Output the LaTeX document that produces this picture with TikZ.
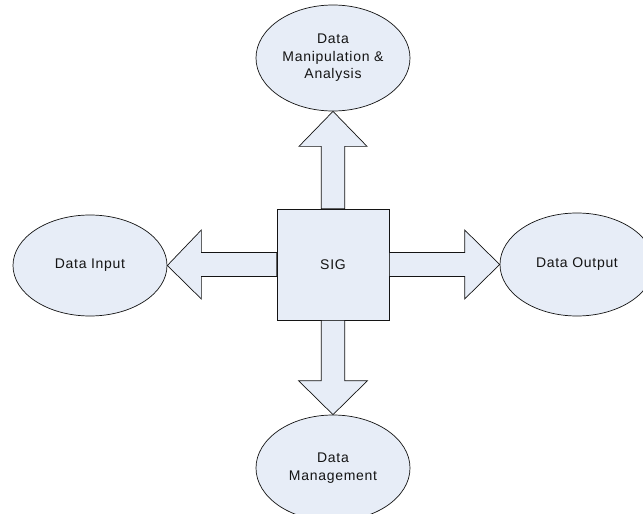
\documentclass[tikz,border=0pt]{standalone}
\usepackage{fontspec}
\setmainfont[LetterSpace=5]{Liberation Sans}
\usetikzlibrary{shapes.geometric,calc}
\definecolor{boxfill}{RGB}{231,237,247}
\definecolor{inkline}{RGB}{20,20,20}
\tikzset{
  every node/.style={font=\fontsize{14}{17.5}\selectfont, text=inkline},
  bubble/.style={ellipse, draw=inkline, fill=boxfill, line width=0.7pt,
    minimum width=154pt, minimum height=104pt, inner sep=0pt, align=center},
  core/.style={rectangle, draw=inkline, fill=boxfill, line width=0.7pt,
    minimum width=112pt, minimum height=111pt, inner sep=0pt},
  blockarr/.style={draw=inkline, fill=boxfill, line width=0.7pt, line join=miter}
}
\begin{document}
\begin{tikzpicture}[x=1pt,y=-1pt]
\useasboundingbox[fill=white] (0,0) rectangle (643,514);
\node[bubble, minimum height=106pt] (man) at (333,58) {Data\\Manipulation \&\\Analysis};
\node[bubble, minimum height=101pt] (inp) at (90,265.5) {Data Input};
\node[bubble, minimum height=103pt] (out) at (577,264.5) {Data Output};
\node[bubble, minimum height=106pt] (mgt) at (333,468) {Data\\Management};
\node[core] (sig) at (333,264.5) {SIG};
% up
\filldraw[blockarr] let \p1=(sig.north), \p2=(man.south) in
  (\x1-11.75pt,\y1) -- (\x1-11.75pt,\y2-35pt) -- (\x1-34pt,\y2-35pt) -- (\x2,\y2)
  -- (\x1+34pt,\y2-35pt) -- (\x1+11.75pt,\y2-35pt) -- (\x1+11.75pt,\y1) -- cycle;
% down
\filldraw[blockarr] let \p1=(sig.south), \p2=(mgt.north) in
  (\x1-11.75pt,\y1) -- (\x1-11.75pt,\y2+34pt) -- (\x1-34.5pt,\y2+34pt) -- (\x2,\y2)
  -- (\x1+34.5pt,\y2+34pt) -- (\x1+11.75pt,\y2+34pt) -- (\x1+11.75pt,\y1) -- cycle;
% left
\filldraw[blockarr] let \p1=(sig.west), \p2=(inp.east) in
  (\x1,\y1+12pt) -- (\x2+34pt,\y1+12pt) -- (\x2+34pt,\y1+34.5pt) -- (\x2,\y2)
  -- (\x2+34pt,\y1-34.5pt) -- (\x2+34pt,\y1-12pt) -- (\x1,\y1-12pt) -- cycle;
% right
\filldraw[blockarr] let \p1=(sig.east), \p2=(out.west) in
  (\x1,\y1+12pt) -- (\x2-35pt,\y1+12pt) -- (\x2-35pt,\y1+34.5pt) -- (\x2,\y2)
  -- (\x2-35pt,\y1-34.5pt) -- (\x2-35pt,\y1-12pt) -- (\x1,\y1-12pt) -- cycle;
\end{tikzpicture}
\end{document}
